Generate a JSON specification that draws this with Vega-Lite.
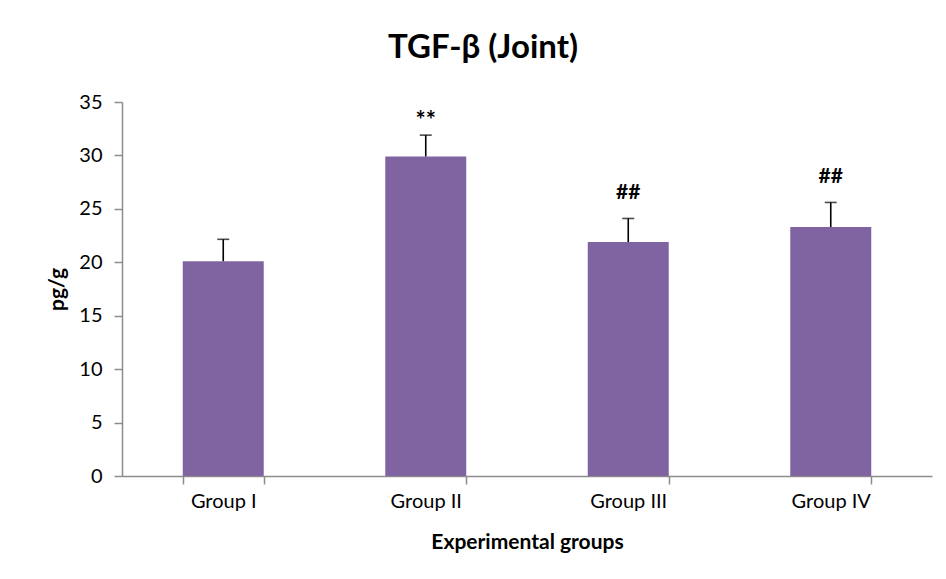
{
  "$schema": "https://vega.github.io/schema/vega-lite/v6.json",
  "autosize": {"type": "none"},
  "width": 810,
  "height": 374,
  "padding": {"left": 122, "top": 102, "right": 14, "bottom": 103},
  "background": "white",
  "title": {
    "text": "TGF-β (Joint)",
    "font": "Lato",
    "fontSize": 33,
    "fontWeight": "bold",
    "color": "black",
    "anchor": "middle",
    "dx": -44,
    "offset": 27
  },
  "data": {
    "values": [
      {"group": "Group I", "value": 20.1, "upper": 22.15, "sig": ""},
      {"group": "Group II", "value": 29.9, "upper": 31.9, "sig": "**"},
      {"group": "Group III", "value": 21.9, "upper": 24.1, "sig": "##"},
      {"group": "Group IV", "value": 23.3, "upper": 25.6, "sig": "##"}
    ]
  },
  "encoding": {
    "x": {
      "field": "group",
      "type": "nominal",
      "sort": null,
      "scale": {"paddingInner": 0.6, "paddingOuter": 0.3},
      "axis": {
        "title": "Experimental groups",
        "labelAngle": 0,
        "tickBand": "extent",
        "tickSize": 8,
        "labelPadding": 7,
        "titlePadding": 20
      }
    }
  },
  "layer": [
    {
      "mark": {"type": "bar", "color": "#8064A2"},
      "encoding": {
        "y": {
          "field": "value",
          "type": "quantitative",
          "scale": {"domain": [0, 35]},
          "axis": {
            "title": "pg/g",
            "values": [0, 5, 10, 15, 20, 25, 30, 35],
            "tickSize": 8,
            "labelPadding": 12,
            "titlePadding": 11,
            "grid": false
          }
        }
      }
    },
    {
      "mark": {"type": "rule", "color": "black", "strokeWidth": 1.6},
      "encoding": {
        "y": {"field": "value", "type": "quantitative"},
        "y2": {"field": "upper"}
      }
    },
    {
      "mark": {"type": "tick", "color": "black", "thickness": 1.6, "size": 12},
      "encoding": {
        "y": {"field": "upper", "type": "quantitative"}
      }
    },
    {
      "transform": [{"filter": "datum.sig == '**'"}],
      "mark": {"type": "text", "font": "Lato", "fontSize": 24, "fontWeight": "bold", "color": "black", "baseline": "middle", "dy": -13},
      "encoding": {
        "y": {"field": "upper", "type": "quantitative"},
        "text": {"field": "sig"}
      }
    },
    {
      "transform": [{"filter": "datum.sig == '##'"}],
      "mark": {"type": "text", "font": "Lato", "fontSize": 21, "fontWeight": "bold", "color": "black", "baseline": "middle", "dy": -25},
      "encoding": {
        "y": {"field": "upper", "type": "quantitative"},
        "text": {"field": "sig"}
      }
    }
  ],
  "config": {
    "view": {"stroke": null},
    "axis": {
      "labelFont": "Lato",
      "labelFontSize": 20,
      "labelColor": "black",
      "titleFont": "Lato",
      "titleFontSize": 21,
      "titleFontWeight": "bold",
      "titleColor": "black",
      "domainColor": "#8c8c8c",
      "domainWidth": 1.5,
      "tickColor": "#8c8c8c",
      "tickWidth": 1.5
    }
  }
}
